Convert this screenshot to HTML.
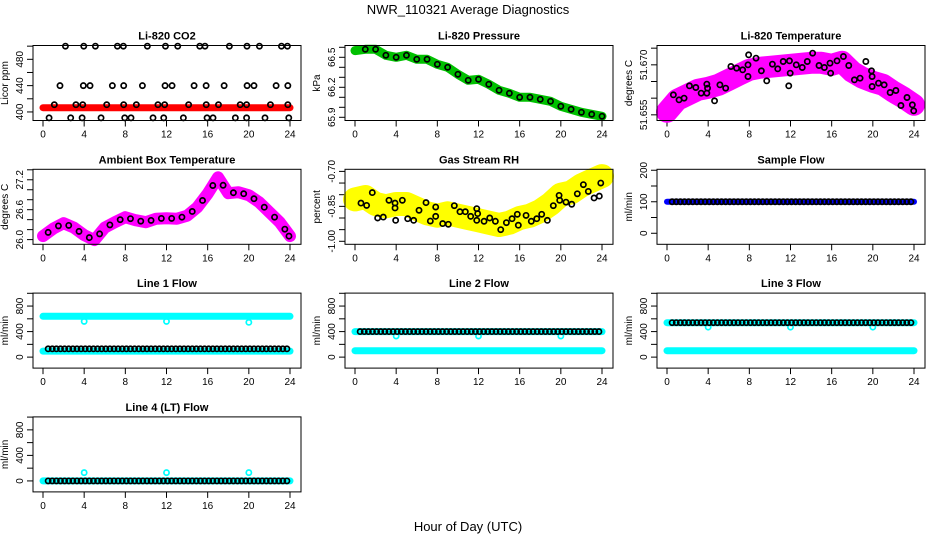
<!DOCTYPE html>
<html><head><meta charset="utf-8"><style>
body{margin:0;background:#fff}
svg{display:block;font-family:"Liberation Sans",sans-serif}
</style></head><body>
<svg id="c" width="936" height="540" viewBox="0 0 936 540" xmlns="http://www.w3.org/2000/svg">
<text x="468" y="14" font-size="13" text-anchor="middle">NWR_110321  Average Diagnostics</text>
<text x="468" y="531" font-size="13" text-anchor="middle">Hour of Day (UTC)</text>
</svg>
<script>
const hours=[0,1,2,3,4,5,6,7,8,9,10,11,12,13,14,15,16,17,18,19,20,21,22,23,24];
const xTicks=[0,4,8,12,16,20,24];
const co2Red=[406.5,406.5,406.5,406.5,406.5,406.5,406.5,406.5,406.5,406.5,406.5,406.5,406.5,406.5,406.5,406.5,406.5,406.5,406.5,406.5,406.5,406.5,406.5,406.5,406.5];
const co2BlackHours=[2.18,3.96,5.09,7.23,7.81,10.14,11.9,13.09,15.23,15.74,18.11,19.82,21.03,23.17,23.75,1.65,3.92,4.57,6.74,7.84,9.66,11.86,12.54,14.68,15.85,17.6,19.83,20.5,22.65,23.79,1.1,3.2,3.86,6.19,7.84,9.07,11.17,11.82,14.15,15.86,17.05,19.16,19.78,22.1,23.79,0.59,2.69,3.8,5.64,7.94,8.55,10.69,11.73,13.64,15.94,16.52,18.69,19.78,21.57,23.88];
const co2BlackVals=[500,500,500,500,500,500,500,500,500,500,500,500,500,500,500,440,440,440,440,440,440,440,440,440,440,440,440,440,440,440,411,411,411,411,411,411,411,411,411,411,411,411,411,411,411,391,391,391,391,391,391,391,391,391,391,391,391,391,391,391];
const pressure=[66.567,66.58,66.58,66.52,66.50,66.52,66.48,66.48,66.43,66.40,66.33,66.27,66.28,66.23,66.17,66.14,66.10,66.10,66.08,66.06,66.01,65.98,65.95,65.93,65.91];
const tempMagenta=[51.6559,51.6595,51.6610,51.6625,51.6631,51.6640,51.6655,51.6670,51.6685,51.6691,51.6694,51.6697,51.6700,51.6703,51.6706,51.6706,51.6700,51.6709,51.6679,51.6661,51.6649,51.6640,51.6619,51.6601,51.6580];
const tempBlackHours=[0.62,1.17,1.66,2.18,2.8,3.32,3.87,3.87,3.94,4.62,5.14,5.7,6.21,6.76,7.35,7.87,7.87,7.93,8.65,9.17,9.69,10.24,10.76,11.29,11.9,11.97,12.56,13.14,13.63,14.15,14.77,15.29,15.84,15.9,16.52,17.14,17.66,18.21,18.76,19.32,19.87,19.93,19.93,20.55,21.1,21.68,22.24,22.73,23.32,23.84,23.97,11.83];
const tempBlackVals=[51.6610,51.6595,51.6600,51.6637,51.6632,51.6615,51.6642,51.6615,51.6630,51.6592,51.6640,51.6630,51.6695,51.6690,51.6685,51.6700,51.6665,51.6730,51.6720,51.6682,51.6652,51.6702,51.6688,51.6710,51.6712,51.6675,51.6700,51.6692,51.6710,51.6735,51.6698,51.6692,51.6705,51.6675,51.6712,51.6725,51.6698,51.6655,51.6660,51.6710,51.6682,51.6665,51.6635,51.6645,51.6640,51.6617,51.6623,51.6578,51.6602,51.6580,51.6562,51.6637];
const ambient=[26.07,26.22,26.33,26.24,26.09,25.99,26.24,26.35,26.45,26.39,26.35,26.42,26.43,26.42,26.48,26.65,26.92,27.25,26.93,26.95,26.89,26.75,26.55,26.35,26.07];
const rh=[-0.82,-0.81,-0.84,-0.85,-0.84,-0.84,-0.86,-0.88,-0.89,-0.88,-0.89,-0.90,-0.91,-0.92,-0.93,-0.92,-0.90,-0.89,-0.87,-0.84,-0.80,-0.79,-0.76,-0.74,-0.72];
const rhBlackHours=[0.58,1.13,1.68,2.2,2.75,3.3,3.89,3.89,3.95,4.6,5.12,5.7,6.22,6.9,7.32,7.84,7.84,8.52,9.07,9.65,10.2,10.72,11.24,11.83,11.83,11.92,12.54,13.09,13.64,14.16,14.71,15.26,15.77,15.87,16.62,17.13,17.66,18.14,18.69,19.27,19.83,19.89,20.5,21.06,21.6,22.19,22.67,23.23,23.74,23.88];
const rhBlackVals=[-0.836,-0.846,-0.791,-0.900,-0.896,-0.824,-0.836,-0.857,-0.910,-0.824,-0.903,-0.910,-0.867,-0.834,-0.913,-0.853,-0.893,-0.924,-0.927,-0.847,-0.873,-0.873,-0.893,-0.860,-0.910,-0.881,-0.914,-0.900,-0.914,-0.950,-0.920,-0.903,-0.884,-0.931,-0.889,-0.914,-0.903,-0.884,-0.910,-0.847,-0.803,-0.824,-0.832,-0.841,-0.796,-0.757,-0.786,-0.814,-0.806,-0.750];
const flowHours=[0.5,0.9,1.3,1.7,2.1,2.5,2.9,3.3,3.7,4.1,4.5,4.9,5.3,5.7,6.1,6.5,6.9,7.3,7.7,8.1,8.5,8.9,9.3,9.7,10.1,10.5,10.9,11.3,11.7,12.1,12.5,12.9,13.3,13.7,14.1,14.5,14.9,15.3,15.7,16.1,16.5,16.9,17.3,17.7,18.1,18.5,18.9,19.3,19.7,20.1,20.5,20.9,21.3,21.7,22.1,22.5,22.9,23.3,23.7];
const dipHours=[4,12,20];
const sampleBlue=[100,100,100,100,100,100,100,100,100,100,100,100,100,100,100,100,100,100,100,100,100,100,100,100,100];
const sampleBlack=[100];
const line1Cyan=[640,95];const line1Black=[130];const line1Dip=[560,560,545];
const line2Cyan=[400,100];const line2Black=[400];const line2Dip=[330,330,330];
const line3Cyan=[540,100];const line3Black=[540];const line3Dip=[470,470,470];
const line4Cyan=[0];const line4Black=[0];const line4Dip=[130,130,130];

const svg=document.getElementById('c');const NS='http://www.w3.org/2000/svg';
function mk(tag,attrs,parent){const e=document.createElementNS(NS,tag);for(const k in attrs)e.setAttribute(k,attrs[k]);(parent||svg).appendChild(e);return e;}
function panel(col,row,title,ylab,ymin,ymax,yTicks,yLabels,name){
  const L=33+312*col,T=45.5+123.8*row,W=268,H=75;
  const g=mk('g',{});
  
  
  const X=h=>L+10+h*(247/24);const Y=v=>T+H-(v-ymin)/(ymax-ymin)*H;
  const t=mk('text',{x:L+W/2,y:T-6,'font-size':11,'font-weight':'bold','text-anchor':'middle'},g);t.textContent=title;
  
  
  xTicks.forEach(h=>{mk('line',{x1:X(h),x2:X(h),y1:T+H,y2:T+H+6,stroke:'#000'},g);
    const tx=mk('text',{x:X(h),y:T+H+17,'font-size':10,'text-anchor':'middle'},g);tx.textContent=h;
    
    });
  yTicks.forEach(v=>{mk('line',{x1:L,x2:L-6,y1:Y(v),y2:Y(v),stroke:'#000'},g);});
  yLabels.forEach(v=>{const tx=mk('text',{x:0,y:0,'font-size':10,'text-anchor':'middle',transform:`translate(${L-10},${Y(+v)}) rotate(-90)`},g);tx.textContent=v;
    
    });
  const yl=mk('text',{x:0,y:0,'font-size':10,'text-anchor':'middle',transform:`translate(${L-25},${T+H/2}) rotate(-90)`},g);yl.textContent=ylab;
  
  
  const plot=mk('g',{},g);
  mk('rect',{x:L,y:T,width:W,height:H,fill:'none',stroke:'#000'},g);
  return {X,Y,g:plot};
}
function band(p,hs,vals,color,w,name){const pts=hs.map((h,i)=>p.X(h).toFixed(1)+','+p.Y(vals[i]).toFixed(1)).join(' ');
  const e=mk('polyline',{points:pts,fill:'none',stroke:color,'stroke-width':w,'stroke-linejoin':'round','stroke-linecap':'round'},p.g);
  
  }
function circles(p,hs,vals,color,name,sw){hs.forEach((h,i)=>{const c=mk('circle',{cx:p.X(h),cy:p.Y(vals[i]),r:2.6,fill:'none',stroke:color,'stroke-width':sw||1.7},p.g);
  
  });}
function levelBand(p,v,color,w,name){band(p,[0,24],[v,v],color,w,name);}
function levelPts(p,v,color,name){circles(p,flowHours,flowHours.map(()=>v),color,name);}

let p=panel(0,0,'Li-820 CO2','Licor ppm',387,501,[400,420,440,460,480,500],['400','440','480'],'co2');
band(p,hours,co2Red,'#f00',7,'co2-red-series');
circles(p,co2BlackHours,co2BlackVals,'#000','co2-point');

p=panel(1,0,'Li-820 Pressure','kPa',65.868,66.618,[65.9,66.0,66.1,66.2,66.3,66.4,66.5,66.6],['65.9','66.2','66.5'],'pressure');
band(p,hours,pressure,'#00c000',9,'pressure-green-series');
circles(p,hours.slice(1),pressure.slice(1),'#000','pressure-point');

p=panel(2,0,'Li-820 Temperature','degrees C',51.6533,51.6758,[51.655,51.66,51.665,51.67,51.675],['51.655','51.670'],'li820-temp');
band(p,hours,tempMagenta,'#f0f',22,'temp-magenta-series');
circles(p,tempBlackHours,tempBlackVals,'#000','temp-point');

p=panel(0,1,'Ambient Box Temperature','degrees C',25.906,27.41,[26.0,26.2,26.4,26.6,26.8,27.0,27.2,27.4],['26.0','26.6','27.2'],'ambient');
band(p,hours,ambient,'#f0f',12,'ambient-magenta-series');
circles(p,hours.map(h=>Math.min(23.9,h+0.5)),ambient.map((v,i)=>i<24?(v+ambient[i+1])/2:v),'#000','ambient-point');

p=panel(1,1,'Gas Stream RH','percent',-1.0129,-0.691,[-1.0,-0.95,-0.9,-0.85,-0.8,-0.75,-0.7],['-1.00','-0.85','-0.70'],'rh');
band(p,hours,rh,'#ffff00',24,'rh-yellow-series');
circles(p,rhBlackHours,rhBlackVals,'#000','rh-point');

p=panel(2,1,'Sample Flow','ml/min',-35,203,[0,50,100,150,200],['0','100','200'],'sample-flow');
band(p,hours,sampleBlue,'#0000ff',6,'sample-blue-series');
levelPts(p,sampleBlack[0],'#000','sample-point');

const fT=[0,200,400,600,800,1000],fL=['0','400','800'];
function flow(col,row,title,cy,bk,dip,name){
  const q=panel(col,row,title,'ml/min',-172,1003,fT,fL,name);
  cy.forEach(v=>levelBand(q,v,'#00ffff',7,name+'-cyan-series'));
  circles(q,dipHours,dip,'#00ffff',name+'-cyan-dip',1.7);
  levelPts(q,bk[0],'#000',name+'-point');
}
flow(0,2,'Line 1 Flow',line1Cyan,line1Black,line1Dip,'line1-flow');
flow(1,2,'Line 2 Flow',line2Cyan,line2Black,line2Dip,'line2-flow');
flow(2,2,'Line 3 Flow',line3Cyan,line3Black,line3Dip,'line3-flow');
flow(0,3,'Line 4 (LT) Flow',line4Cyan,line4Black,line4Dip,'line4-flow');
</script>
</body></html>
